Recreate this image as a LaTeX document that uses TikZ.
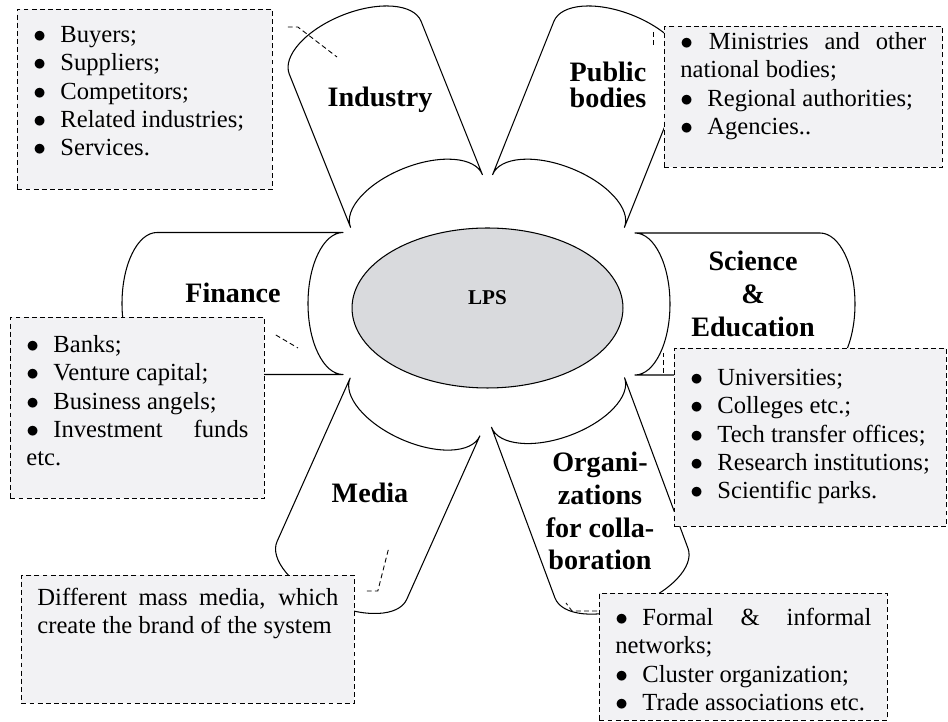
\documentclass[tikz,border=0pt]{standalone}
\usepackage{fontspec}
\setmainfont{Liberation Serif}
\usepackage{tikz}
\usetikzlibrary{shapes.geometric}
\definecolor{boxgray}{RGB}{242,242,244}
\definecolor{lpsgray}{RGB}{217,218,221}
\newcommand{\bitem}{\makebox[0.54cm][l]{$\bullet$}}
% petal: inner end at (#1,#2), pointing at angle #3, length #4
\newcommand{\flowerpetal}[4]{%
  \begin{scope}[shift={(#1,#2)},rotate=#3]
    \draw[petal] (0,-71) -- (#4,-71)
      .. controls (#4+19.3,-71) and (#4+35,-39.2) .. (#4+35,0)
      .. controls (#4+35,39.2) and (#4+19.3,71) .. (#4,71)
      -- (0,71)
      .. controls (19.3,71) and (35,39.2) .. (35,0)
      .. controls (35,-39.2) and (19.3,-71) .. cycle;
  \end{scope}}

\begin{document}
\begin{tikzpicture}[x=0.02cm,y=-0.02cm,
  petal/.style={draw,line width=0.6pt,fill=white,line join=round},
  lpscore/.style={ellipse,draw,line width=0.6pt,fill=lpsgray,minimum width=5.42cm,
    minimum height=3.2cm,font=\fontsize{12}{14}\selectfont\bfseries,
    text height=8pt,text depth=12.5pt},
  petaltag/.style={font=\fontsize{16}{18.7}\selectfont\bfseries,align=center},
  infobox/.style={draw,dash pattern=on 2.8pt off 1.8pt,line width=0.5pt,fill=boxgray,
    anchor=north west,inner xsep=0.32cm,inner ysep=0pt,align=justify,
    font=\fontsize{14}{16.1}\selectfont},
  leader/.style={dash pattern=on 2.8pt off 1.8pt,line width=0.5pt}]
\useasboundingbox (0,0) rectangle (948,722);

\flowerpetal{416.5}{201}{111.8}{165}
\flowerpetal{558.5}{201}{68.2}{165}
\flowerpetal{343}{303.5}{180}{186}
\flowerpetal{635}{304}{0}{185}
\flowerpetal{415}{407}{245.9}{179}
\flowerpetal{558}{402.5}{-69.6}{182}

\node[lpscore] (lps) at (487.5,308) {LPS};

\node[petaltag,anchor=base] (industry) at (380,107) {Industry};
\node[petaltag] (public) at (608,85) {Public\\[-3.5pt]bodies};
\node[petaltag,anchor=base] (finance) at (233,303) {Finance};
\node[petaltag] (science) at (753,294) {Science\\\&\\Education};
\node[petaltag,anchor=base] (media) at (370,503) {Media};
\node[petaltag] (collab) at (600,511) {Organi-\\zations\\for colla-\\boration};

\node[infobox,text width=4.46cm,text height=0.66cm,text depth=2.94cm] (indbox) at (17,9)
  {\bitem Buyers;\par\bitem Suppliers;\par\bitem Competitors;\par
   \bitem Related industries;\par\bitem Services.};
\node[infobox,text width=4.92cm,text height=0.46cm,text depth=2.36cm] (pubbox) at (664,26)
  {$\bullet$\ Ministries and other\linebreak national bodies;\par
   \bitem Regional authorities;\par\bitem Agencies..};
\node[infobox,text width=4.44cm,text height=0.70cm,text depth=2.92cm] (finbox) at (10,317)
  {\bitem Banks;\par\bitem Venture capital;\par\bitem Business angels;\par
   \bitem Investment funds\linebreak etc.};
\node[infobox,text width=4.80cm,text height=0.74cm,text depth=2.82cm] (scibox) at (674,348)
  {\bitem Universities;\par\bitem Colleges etc.;\par\bitem Tech~transfer~offices;\par
   \bitem Research~institutions;\par\bitem Scientific parks.};
\node[infobox,text width=6.02cm,text height=0.60cm,text depth=1.96cm] (medbox) at (21,575)
  {Different mass media, which\linebreak create the brand of the system};
\node[infobox,text width=5.12cm,text height=0.64cm,text depth=1.90cm] (orgbox) at (599,593)
  {\bitem Formal \& informal\linebreak networks;\par
   \bitem Cluster organization;\par\bitem Trade associations etc.};

\coordinate (indtip) at (337,57);
\coordinate (fintip) at (298,348);
\coordinate (medtip) at (389,547);
\coordinate (orgtip) at (566,603);
\draw[leader] ([shift={(15,18)}]indbox.north east) -- ++(10,0) -- (indtip);
\draw[leader] ([shift={(-11,6)}]pubbox.north west) -- ++(0,13);
\draw[leader] ([shift={(11,18)}]finbox.north east) -- (fintip);
\draw[leader] ([shift={(-11,25)}]scibox.north west) -- ++(0,-20);
\draw[leader] ([shift={(12,16)}]medbox.north east) -- ++(11,0) -- (medtip);
\draw[leader] ([shift={(-2,18)}]orgbox.north west) -- ++(-25,0) -- (orgtip);
\end{tikzpicture}
\end{document}
